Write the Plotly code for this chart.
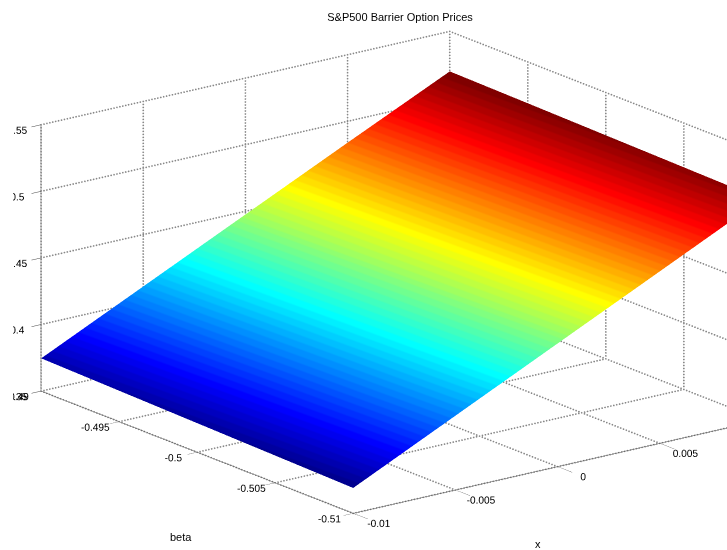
import plotly.graph_objects as go

x_values = [-0.01, -0.005, 0.0, 0.005, 0.01]
beta_values = [-0.51, -0.505, -0.5, -0.495, -0.49]
# rows follow beta_values, columns follow x_values
price_values = [
    [0.3690, 0.4057, 0.4424, 0.4790, 0.5157],
    [0.3704, 0.4071, 0.4437, 0.4803, 0.5168],
    [0.3718, 0.4084, 0.4450, 0.4815, 0.5179],
    [0.3732, 0.4098, 0.4463, 0.4828, 0.5190],
    [0.3746, 0.4111, 0.4476, 0.4840, 0.5200],
]
x_ticks = [-0.01, -0.005, 0, 0.005, 0.01]
beta_ticks = [-0.51, -0.505, -0.5, -0.495, -0.49]
z_ticks = [0.35, 0.4, 0.45, 0.5, 0.55]
title_text = "S&P500 Barrier Option Prices"

JET = []
for i in range(64):
    v = (i + 1) / 64 * 4
    r = max(0, min(v - 1.5, 4.5 - v, 1))
    g = max(0, min(v - 0.5, 3.5 - v, 1))
    b = max(0, min(v + 0.5, 2.5 - v, 1))
    c = f"rgb({r*255:.0f},{g*255:.0f},{b*255:.0f})"
    JET += [[i / 64, c], [(i + 1) / 64, c]]

flat = [v for row in price_values for v in row]
fig = go.Figure()
fig.add_trace(go.Surface(
    x=x_values, y=beta_values, z=price_values,
    colorscale=JET, cmin=min(flat), cmax=max(flat), showscale=False,
    lighting=dict(ambient=1, diffuse=0, specular=0, roughness=1, fresnel=0),
    hoverinfo="skip",
))

xlo, xhi = x_ticks[0], x_ticks[-1]
ylo, yhi = beta_ticks[0], beta_ticks[-1]
zlo, zhi = z_ticks[0], z_ticks[-1]
gx, gy, gz = [], [], []
def seg(a, b, n):
    for i in range(n + 1):
        f = i / n
        gx.append(a[0] + (b[0] - a[0]) * f)
        gy.append(a[1] + (b[1] - a[1]) * f)
        gz.append(a[2] + (b[2] - a[2]) * f)
for t in x_ticks:
    seg((t, ylo, zlo), (t, yhi, zlo), 112)
    seg((t, yhi, zlo), (t, yhi, zhi), 89)
for t in beta_ticks:
    seg((xlo, t, zlo), (xhi, t, zlo), 140)
    seg((xhi, t, zlo), (xhi, t, zhi), 89)
for t in z_ticks:
    seg((xlo, yhi, t), (xhi, yhi, t), 140)
    seg((xhi, yhi, t), (xhi, ylo, t), 112)
fig.add_trace(go.Scatter3d(x=gx, y=gy, z=gz, mode="markers",
                           marker=dict(color="#888888", size=1, line=dict(width=0)),
                           hoverinfo="skip", showlegend=False))

def axis(vals, ticklen):
    return dict(
        range=[vals[0], vals[-1]], tickvals=vals, ticktext=[f"{v:g}" for v in vals],
        title=dict(text=""), tickangle=0,
        showgrid=False, showbackground=False, zeroline=False, showspikes=False,
        showline=True, linecolor="#444444", linewidth=1,
        ticks="outside", ticklen=ticklen, tickcolor="#444444", tickwidth=1,
        tickfont=dict(family="Liberation Sans", size=11, color="black"),
    )

d = 5
c = (-0.0927, 0.0672, -0.0092)
font = dict(family="Liberation Sans", size=11, color="black")
fig.update_layout(
    width=727, height=550, autosize=False,
    margin=dict(l=13, r=0, t=0, b=0),
    paper_bgcolor="white",
    title=dict(text=title_text, x=400/727, y=1-17/550, xanchor="center", yanchor="middle", font=font),
    annotations=[
        dict(text="beta", x=(181-13)/714, y=1-537/550, xref="paper", yref="paper", showarrow=False,
             xanchor="center", yanchor="middle", font=font),
        dict(text="x", x=(538-13)/714, y=1-544/550, xref="paper", yref="paper", showarrow=False,
             xanchor="center", yanchor="middle", font=font),
    ],
    scene=dict(
        domain=dict(x=[0, 1], y=[0, 1]),
        xaxis=axis(x_ticks, 12), yaxis=axis(beta_ticks, 24), zaxis=axis(z_ticks, 16),
        aspectmode="manual", aspectratio=dict(x=1.87, y=1.87, z=1.015),
        camera=dict(projection=dict(type="orthographic"),
                    up=dict(x=0, y=0, z=1),
                    center=dict(x=c[0], y=c[1], z=c[2]),
                    eye=dict(x=c[0]-0.579*d, y=c[1]-0.758*d, z=c[2]+0.299*d)),
    ),
)
fig.write_html("out.html", config=dict(displayModeBar=False),
               post_script="document.body.style.margin='0';Plotly.Plots.resize('{plot_id}');")
